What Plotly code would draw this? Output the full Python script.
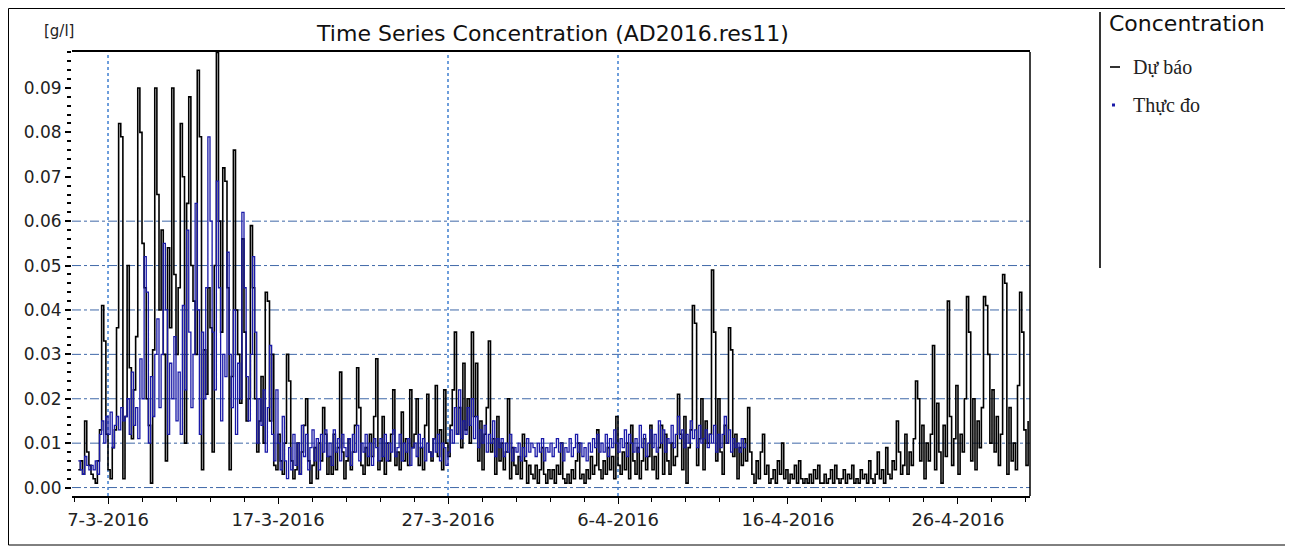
import pandas as pd
import plotly.graph_objects as go

# ---------------- data ----------------
series_start = "2016-03-05 06:00"
series_step = "3h"

# "Dự báo" (forecast), 3-hourly values, one line per day
forecast = [
    0.004, 0.006, 0.003, 0.015, 0.008, 0.005,                      # 5-3 (from 06:00)
    0.003, 0.002, 0.001, 0.006, 0.013, 0.041, 0.033, 0.012,        # 6-3
    0.004, 0.002, 0.009, 0.013, 0.036, 0.082, 0.079, 0.002,        # 7-3
    0.016, 0.050, 0.027, 0.011, 0.022, 0.034, 0.090, 0.080,        # 8-3
    0.055, 0.045, 0.020, 0.014, 0.001, 0.031, 0.090, 0.066,        # 9-3
    0.040, 0.058, 0.030, 0.006, 0.054, 0.036, 0.090, 0.048,        # 10-3
    0.030, 0.045, 0.082, 0.070, 0.010, 0.064, 0.088, 0.050,        # 11-3
    0.042, 0.030, 0.094, 0.079, 0.004, 0.031, 0.021, 0.045,        # 12-3
    0.036, 0.008, 0.050, 0.098, 0.060, 0.035, 0.072, 0.069,        # 13-3
    0.045, 0.004, 0.025, 0.076, 0.040, 0.030, 0.019, 0.056,        # 14-3
    0.035, 0.015, 0.020, 0.059, 0.045, 0.020, 0.008, 0.015,        # 15-3
    0.025, 0.010, 0.044, 0.042, 0.015, 0.030, 0.005, 0.004,        # 16-3
    0.012, 0.006, 0.003, 0.010, 0.030, 0.024, 0.006, 0.002,        # 17-3
    0.004, 0.010, 0.003, 0.008, 0.014, 0.020, 0.006, 0.001,        # 18-3
    0.005, 0.009, 0.002, 0.010, 0.006, 0.018, 0.012, 0.003,        # 19-3
    0.007, 0.003, 0.012, 0.004, 0.009, 0.026, 0.008, 0.002,        # 20-3
    0.006, 0.011, 0.004, 0.008, 0.014, 0.027, 0.018, 0.005,        # 21-3
    0.003, 0.009, 0.005, 0.012, 0.007, 0.016, 0.029, 0.004,        # 22-3
    0.006, 0.016, 0.003, 0.010, 0.006, 0.012, 0.022, 0.005,        # 23-3
    0.008, 0.004, 0.017, 0.006, 0.011, 0.005, 0.022, 0.009,        # 24-3
    0.012, 0.020, 0.005, 0.009, 0.004, 0.014, 0.021, 0.008,        # 25-3
    0.006, 0.011, 0.023, 0.007, 0.013, 0.004, 0.022, 0.010,        # 26-3
    0.007, 0.014, 0.022, 0.035, 0.012, 0.018, 0.009, 0.028,        # 27-3
    0.013, 0.020, 0.010, 0.035, 0.016, 0.028, 0.006, 0.015,        # 28-3
    0.004, 0.012, 0.018, 0.033, 0.008, 0.011, 0.003, 0.016,        # 29-3
    0.006, 0.010, 0.004, 0.008, 0.020, 0.002, 0.009, 0.005,        # 30-3
    0.003, 0.007, 0.002, 0.012, 0.006, 0.001, 0.005, 0.003,        # 31-3
    0.002, 0.005, 0.001, 0.004, 0.009, 0.003, 0.001, 0.004,        # 1-4
    0.002, 0.004, 0.001, 0.005, 0.003, 0.010, 0.002, 0.001,        # 2-4
    0.003, 0.001, 0.004, 0.002, 0.006, 0.010, 0.002, 0.003,        # 3-4
    0.001, 0.004, 0.002, 0.007, 0.003, 0.005, 0.013, 0.004,        # 4-4
    0.002, 0.006, 0.003, 0.009, 0.004, 0.007, 0.002, 0.016,        # 5-4
    0.005, 0.003, 0.008, 0.004, 0.010, 0.002, 0.014, 0.006,        # 6-4
    0.003, 0.009, 0.002, 0.006, 0.011, 0.004, 0.007, 0.014,        # 7-4
    0.004, 0.007, 0.002, 0.009, 0.014, 0.003, 0.012, 0.006,        # 8-4
    0.003, 0.010, 0.005, 0.007, 0.021, 0.012, 0.004, 0.016,        # 9-4
    0.001, 0.009, 0.013, 0.041, 0.037, 0.005, 0.011, 0.020,        # 10-4
    0.004, 0.015, 0.010, 0.012, 0.049, 0.035, 0.006, 0.020,        # 11-4
    0.008, 0.003, 0.014, 0.010, 0.036, 0.031, 0.007, 0.012,        # 12-4
    0.002, 0.009, 0.005, 0.011, 0.006, 0.018, 0.008, 0.003,        # 13-4
    0.001, 0.006, 0.002, 0.008, 0.012, 0.003, 0.005, 0.001,        # 14-4
    0.002, 0.004, 0.001, 0.006, 0.003, 0.010, 0.002, 0.004,        # 15-4
    0.001, 0.003, 0.002, 0.005, 0.001, 0.006, 0.002, 0.001,        # 16-4
    0.002, 0.001, 0.003, 0.001, 0.004, 0.002, 0.005, 0.001,        # 17-4
    0.001, 0.003, 0.001, 0.002, 0.004, 0.001, 0.005, 0.002,        # 18-4
    0.001, 0.002, 0.004, 0.001, 0.003, 0.002, 0.005, 0.001,        # 19-4
    0.002, 0.001, 0.004, 0.002, 0.003, 0.001, 0.006, 0.002,        # 20-4
    0.001, 0.003, 0.008, 0.002, 0.004, 0.001, 0.009, 0.003,        # 21-4
    0.002, 0.006, 0.004, 0.015, 0.008, 0.003, 0.005, 0.012,        # 22-4
    0.003, 0.008, 0.005, 0.011, 0.024, 0.020, 0.006, 0.014,        # 23-4
    0.002, 0.010, 0.006, 0.012, 0.032, 0.004, 0.019, 0.008,        # 24-4
    0.001, 0.014, 0.007, 0.042, 0.016, 0.005, 0.011, 0.023,        # 25-4
    0.003, 0.012, 0.008, 0.020, 0.043, 0.035, 0.006, 0.020,        # 26-4
    0.004, 0.015, 0.009, 0.018, 0.043, 0.041, 0.030, 0.010,        # 27-4
    0.022, 0.008, 0.016, 0.005, 0.012, 0.048, 0.046, 0.003,        # 28-4
    0.018, 0.006, 0.010, 0.004, 0.023, 0.044, 0.035, 0.013,        # 29-4
    0.005, 0.015,                                                  # 30-4
]

# "Thực đo" (measured), 3-hourly values, one line per day
observed = [
    0.006, 0.004, 0.003, 0.007, 0.005, 0.004,                      # 5-3 (from 06:00)
    0.005, 0.004, 0.006, 0.003, 0.012, 0.015, 0.010, 0.016,        # 6-3
    0.012, 0.017, 0.009, 0.014, 0.016, 0.013, 0.018, 0.015,        # 7-3
    0.016, 0.020, 0.012, 0.026, 0.014, 0.018, 0.011, 0.029,        # 8-3
    0.020, 0.052, 0.044, 0.010, 0.025, 0.016, 0.030, 0.038,        # 9-3
    0.018, 0.030, 0.055, 0.040, 0.012, 0.028, 0.020, 0.034,        # 10-3
    0.015, 0.026, 0.012, 0.041, 0.022, 0.058, 0.035, 0.018,        # 11-3
    0.030, 0.064, 0.040, 0.012, 0.035, 0.020, 0.045, 0.079,        # 12-3
    0.060, 0.035, 0.022, 0.069, 0.045, 0.015, 0.030, 0.025,        # 13-3
    0.053, 0.030, 0.018, 0.040, 0.012, 0.028, 0.020, 0.062,        # 14-3
    0.045, 0.025, 0.015, 0.030, 0.052, 0.035, 0.010, 0.020,        # 15-3
    0.014, 0.022, 0.008, 0.018, 0.032, 0.012, 0.006, 0.022,        # 16-3
    0.010, 0.004, 0.016, 0.006, 0.002, 0.009, 0.004, 0.012,        # 17-3
    0.005, 0.010, 0.003, 0.014, 0.007, 0.012, 0.004, 0.009,        # 18-3
    0.013, 0.006, 0.011, 0.004, 0.012, 0.008, 0.013, 0.007,        # 19-3
    0.010, 0.005, 0.013, 0.008, 0.011, 0.006, 0.012, 0.009,        # 20-3
    0.007, 0.011, 0.005, 0.012, 0.008, 0.014, 0.006, 0.010,        # 21-3
    0.008, 0.012, 0.007, 0.010, 0.005, 0.011, 0.009, 0.006,        # 22-3
    0.011, 0.007, 0.012, 0.006, 0.010, 0.008, 0.013, 0.007,        # 23-3
    0.009, 0.012, 0.006, 0.010, 0.008, 0.011, 0.005, 0.009,        # 24-3
    0.010, 0.007, 0.012, 0.009, 0.011, 0.006, 0.010, 0.008,        # 25-3
    0.007, 0.011, 0.008, 0.012, 0.006, 0.010, 0.009, 0.005,        # 26-3
    0.008, 0.013, 0.010, 0.018, 0.012, 0.022, 0.011, 0.015,        # 27-3
    0.012, 0.018, 0.014, 0.020, 0.011, 0.016, 0.009, 0.013,        # 28-3
    0.010, 0.014, 0.008, 0.012, 0.010, 0.015, 0.007, 0.011,        # 29-3
    0.009, 0.011, 0.007, 0.010, 0.008, 0.012, 0.006, 0.009,        # 30-3
    0.008, 0.010, 0.006, 0.009, 0.007, 0.011, 0.008, 0.010,        # 31-3
    0.009, 0.007, 0.010, 0.008, 0.011, 0.006, 0.009, 0.008,        # 1-4
    0.010, 0.007, 0.009, 0.011, 0.008, 0.010, 0.006, 0.009,        # 2-4
    0.008, 0.011, 0.007, 0.009, 0.012, 0.008, 0.010, 0.007,        # 3-4
    0.009, 0.006, 0.010, 0.008, 0.011, 0.009, 0.012, 0.008,        # 4-4
    0.010, 0.008, 0.012, 0.007, 0.011, 0.009, 0.013, 0.010,        # 5-4
    0.008, 0.011, 0.009, 0.013, 0.007, 0.012, 0.010, 0.008,        # 6-4
    0.011, 0.008, 0.014, 0.009, 0.012, 0.007, 0.010, 0.013,        # 7-4
    0.009, 0.012, 0.008, 0.015, 0.010, 0.013, 0.008, 0.011,        # 8-4
    0.010, 0.014, 0.009, 0.012, 0.016, 0.011, 0.013, 0.009,        # 9-4
    0.012, 0.010, 0.015, 0.011, 0.013, 0.009, 0.014, 0.010,        # 10-4
    0.011, 0.013, 0.009, 0.012, 0.010, 0.014, 0.008, 0.012,        # 11-4
    0.009, 0.012, 0.016, 0.010, 0.013, 0.008, 0.011, 0.009,        # 12-4
    0.010, 0.008, 0.011, 0.009, 0.010,                             # 13-4 (to 12:00)
]

series_names = ["Dự báo", "Thực đo"]
y_tick_values = [0.00, 0.01, 0.02, 0.03, 0.04, 0.05, 0.06, 0.07, 0.08, 0.09]
y_tick_labels = ["0.00", "0.01", "0.02", "0.03", "0.04", "0.05", "0.06", "0.07", "0.08", "0.09"]
x_tick_dates = ["2016-03-07", "2016-03-17", "2016-03-27", "2016-04-06", "2016-04-16", "2016-04-26"]
x_tick_labels = ["7-3-2016", "17-3-2016", "27-3-2016", "6-4-2016", "16-4-2016", "26-4-2016"]
h_grid_levels = [0.00, 0.01, 0.02, 0.03, 0.04, 0.05, 0.06]
v_grid_dates = ["2016-03-07", "2016-03-27", "2016-04-06"]
x_range = ["2016-03-04 21:10", "2016-04-30 05:40"]
y_range = [-0.0019, 0.0981]

# ---------------- figure ----------------
t_forecast = pd.date_range(series_start, periods=len(forecast), freq=series_step)
t_observed = pd.date_range(series_start, periods=len(observed), freq=series_step)

# the html body has an 8 px margin: build the figure in page pixels minus that offset
OFF = 8
W, H = 1293 - OFF, 553 - OFF
PL, PR, PT, PB = 72, 1030, 52, 496          # plot box in page pixels
L, T = PL - OFF, PT - OFF
R, B = W - (PR - OFF), H - (PB - OFF)
pw, ph = PR - PL, PB - PT


def px(xp):
    return (xp - PL) / pw


def py(yp):
    return (PB - yp) / ph


BLUE = "#1a1aa8"

fig = go.Figure()
fig.add_trace(go.Scatter(x=t_forecast, y=forecast, mode="lines", name=series_names[0],
                         line=dict(color="#000000", width=1.6, shape="hv"), showlegend=False))
fig.add_trace(go.Scatter(x=t_observed, y=observed, mode="lines", name=series_names[1],
                         line=dict(color=BLUE, width=1.3, shape="hv"), showlegend=False))

shapes = []
for lv in h_grid_levels:
    shapes.append(dict(type="line", xref="paper", yref="y", x0=0, x1=1, y0=lv, y1=lv,
                       line=dict(color="#3f68a8", width=1, dash="dashdot"), layer="below"))
for d in v_grid_dates:
    shapes.append(dict(type="line", xref="x", yref="paper", x0=d, x1=d, y0=0, y1=1,
                       line=dict(color="#3f7fd0", width=1.5, dash="dot"), layer="below"))
# right edge of the plot frame
shapes.append(dict(type="line", xref="paper", yref="paper", x0=1, x1=1, y0=0, y1=1,
                   line=dict(color="#000000", width=1.5)))
# outer frame of the picture
shapes.append(dict(type="rect", xref="paper", yref="paper", x0=px(8.5), x1=px(1286), y0=py(545), y1=py(8.5),
                   line=dict(color="#000000", width=1), fillcolor="rgba(0,0,0,0)"))
# legend separator
shapes.append(dict(type="line", xref="paper", yref="paper", x0=px(1100), x1=px(1100), y0=py(268), y1=py(12),
                   line=dict(color="#333333", width=2)))
# legend glyphs
shapes.append(dict(type="line", xref="paper", yref="paper", x0=px(1110), x1=px(1120), y0=py(67), y1=py(67),
                   line=dict(color="#000000", width=1.6)))
shapes.append(dict(type="rect", xref="paper", yref="paper", x0=px(1112), x1=px(1115), y0=py(106.5), y1=py(103.5),
                   line=dict(color=BLUE, width=0), fillcolor=BLUE))

annotations = [
    dict(text="[g/l]", xref="paper", yref="paper", x=px(42), y=py(31), xanchor="left", yanchor="middle",
         showarrow=False, font=dict(family="DejaVu Sans", size=15, color="#222222")),
    dict(text="Concentration", xref="paper", yref="paper", x=px(1107), y=py(24), xanchor="left",
         yanchor="middle", showarrow=False, font=dict(family="DejaVu Sans", size=22, color="#111111")),
    dict(text=series_names[0], xref="paper", yref="paper", x=px(1131), y=py(67), xanchor="left",
         yanchor="middle", showarrow=False, font=dict(family="Liberation Serif", size=20, color="#222222")),
    dict(text=series_names[1], xref="paper", yref="paper", x=px(1131), y=py(105), xanchor="left",
         yanchor="middle", showarrow=False, font=dict(family="Liberation Serif", size=20, color="#222222")),
]

fig.update_layout(
    width=W, height=H,
    margin=dict(l=L, r=R, t=T, b=B, pad=0),
    paper_bgcolor="white", plot_bgcolor="white",
    title=dict(text="Time Series Concentration (AD2016.res11)", x=px(553), xref="paper", xanchor="center",
               y=1 - (33 - OFF) / H, yref="container", yanchor="middle",
               font=dict(family="DejaVu Sans", size=22, color="#111111")),
    shapes=shapes, annotations=annotations,
    showlegend=False,
)
fig.update_xaxes(
    type="date", range=x_range, showgrid=False, zeroline=False,
    showline=True, linecolor="#000000", linewidth=2, mirror=True,
    tickmode="array", tickvals=x_tick_dates, ticktext=x_tick_labels,
    ticks="outside", ticklen=6, tickcolor="#000000", tickwidth=1,
    minor=dict(ticks="outside", ticklen=4, dtick=2 * 86400000, tick0="2016-03-07", tickcolor="#000000"),
    tickfont=dict(family="DejaVu Sans", size=18, color="#222222"),
)
fig.update_yaxes(
    range=y_range, showgrid=False, zeroline=False, showline=False,
    tickmode="array", tickvals=y_tick_values, ticktext=y_tick_labels,
    ticks="outside", ticklen=6, tickcolor="#000000", tickwidth=1.5,
    minor=dict(ticks="outside", ticklen=4, dtick=0.002, tick0=0, tickcolor="#000000"),
    tickfont=dict(family="DejaVu Sans", size=17, color="#222222"),
)

fig.write_html("out.html")
